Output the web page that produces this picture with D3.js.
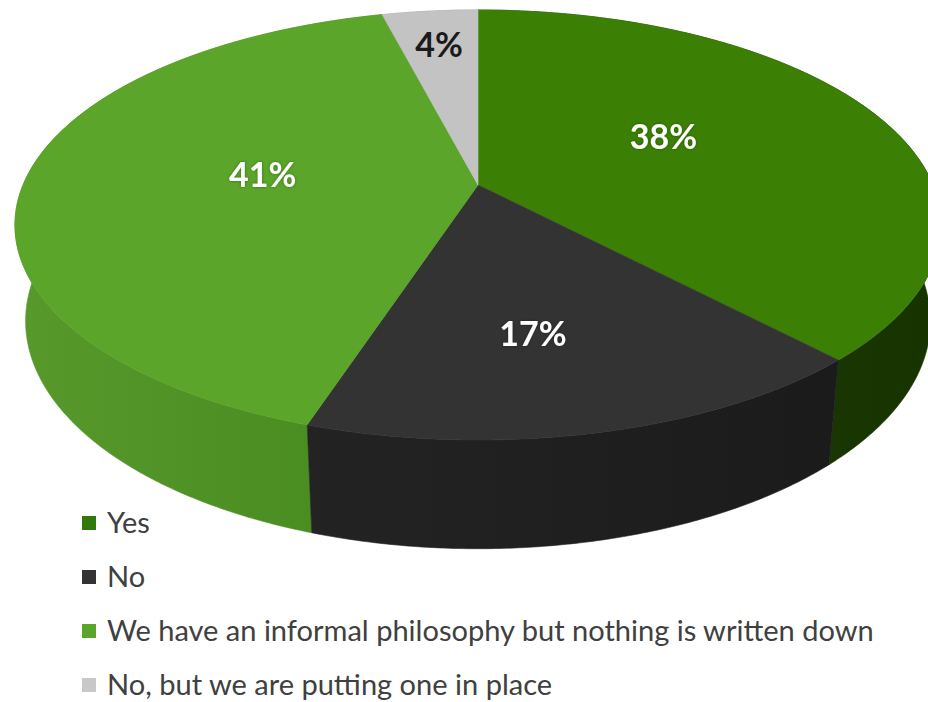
<!DOCTYPE html>
<html>
<head>
<meta charset="utf-8">
<script src="https://cdn.jsdelivr.net/npm/d3@7"></script>
<style>
  html, body { margin: 0; padding: 0; background: #ffffff; }
  svg { display: block; }
</style>
</head>
<body>
<svg id="chart" width="928" height="702"></svg>
<script>
// ---- data ----
const categories = [
  "Yes",
  "No",
  "We have an informal philosophy but nothing is written down",
  "No, but we are putting one in place"
];
const values = [38, 17, 41, 4];
const valueLabels = ["38%", "17%", "41%", "4%"];

// ---- styling ----
const topColors  = ["#3b8004", "#333333", "#5aa52a", "#c3c3c3"];
const sideColors = [["#1f4207", "#173300"], ["#232323", "#1b1b1b"], ["#57992b", "#478a1f"], ["#9a9a9a", "#8a8a8a"]];
const legendColors = ["#2f7a0a", "#333333", "#5aa52a", "#c8c8c8"];
const labelColors = ["#ffffff", "#ffffff", "#ffffff", "#1a1a1a"];
// label anchor: fraction of radius and angular nudge (degrees) from the slice middle
const labelPlacement = [
  { r: 0.49, nudge: -8 },
  { r: 0.64, nudge: 3 },
  { r: 0.48, nudge: 4 },
  { r: 0.78, nudge: 0 }
];

const svg = d3.select("#chart");

// ---- 3D camera for a tilted cylinder (unit radius) ----
const cx = 478, cy = 185;       // screen position of the pie centre
const A = 455;                  // horizontal scale at centre depth
const persp = 0.186;            // perspective strength
const sinPhi = 207.6 / A;
const phi = Math.asin(sinPhi);
const cosPhi = Math.cos(phi);
const D = cosPhi / persp;       // camera distance
const F = A * D;                // focal length
const thick = 0.239;            // cylinder height (in radii)

function project(a, r, y3) {
  const X = r * Math.sin(a);
  const Z = -r * Math.cos(a);
  const yc = y3 * cosPhi - Z * sinPhi;
  const zc = D - y3 * sinPhi - Z * cosPhi;
  return [cx + F * X / zc, cy - F * yc / zc];
}

const pie = d3.pie().sort(null).value(d => d).startAngle(0).endAngle(2 * Math.PI);
const arcs = pie(values);

const line = d3.line().curve(d3.curveLinear);
const step = Math.PI / 360;

function arcSamples(a0, a1) {
  const n = Math.max(2, Math.ceil((a1 - a0) / step));
  return d3.range(n + 1).map(i => a0 + (a1 - a0) * i / n);
}

const defs = svg.append("defs");

// side wall gradients
arcs.forEach((d, i) => {
  const xs = arcSamples(d.startAngle, d.endAngle).map(a => project(a, 1, 0)[0]);
  const g = defs.append("linearGradient")
    .attr("id", "side" + i)
    .attr("gradientUnits", "userSpaceOnUse")
    .attr("x1", d3.min(xs)).attr("x2", d3.max(xs))
    .attr("y1", 0).attr("y2", 0);
  g.append("stop").attr("offset", "0%").attr("stop-color", sideColors[i][0]);
  g.append("stop").attr("offset", "100%").attr("stop-color", sideColors[i][1]);
});

const labelShadow = defs.append("filter").attr("id", "glow")
  .attr("x", "-20%").attr("y", "-30%").attr("width", "140%").attr("height", "160%");
labelShadow.append("feGaussianBlur").attr("in", "SourceAlpha").attr("stdDeviation", 1.6).attr("result", "b");
labelShadow.append("feFlood").attr("flood-color", "#000").attr("flood-opacity", 0.35);
labelShadow.append("feComposite").attr("in2", "b").attr("operator", "in").attr("result", "s");
const mrg = labelShadow.append("feMerge");
mrg.append("feMergeNode").attr("in", "s");
mrg.append("feMergeNode").attr("in", "SourceGraphic");

const pieG = svg.append("g");

// side walls, far ones first
const sideOrder = arcs.map((d, i) => i)
  .sort((p, q) => Math.cos((arcs[q].startAngle + arcs[q].endAngle) / 2) - Math.cos((arcs[p].startAngle + arcs[p].endAngle) / 2));

sideOrder.forEach(i => {
  const d = arcs[i];
  const as = arcSamples(d.startAngle, d.endAngle);
  const topPts = as.map(a => project(a, 1, 0));
  const botPts = as.slice().reverse().map(a => project(a, 1, -thick));
  pieG.append("path")
    .attr("d", line(topPts.concat(botPts)) + "Z")
    .attr("fill", `url(#side${i})`)
    .attr("stroke", `url(#side${i})`)
    .attr("stroke-width", 0.6);
});

// top faces
arcs.forEach((d, i) => {
  const as = arcSamples(d.startAngle, d.endAngle);
  const pts = [project(0, 0, 0)].concat(as.map(a => project(a, 1, 0)));
  pieG.append("path")
    .attr("d", line(pts) + "Z")
    .attr("fill", topColors[i])
    .attr("stroke", topColors[i])
    .attr("stroke-width", 0.6)
    .attr("stroke-linejoin", "round");
});

// value labels
arcs.forEach((d, i) => {
  const mid = (d.startAngle + d.endAngle) / 2 + labelPlacement[i].nudge * Math.PI / 180;
  const [lx, ly] = project(mid, labelPlacement[i].r, 0);
  svg.append("text")
    .attr("x", lx).attr("y", ly)
    .attr("dy", "0.36em")
    .attr("text-anchor", "middle")
    .attr("font-family", "Lato, 'Open Sans', sans-serif")
    .attr("font-weight", 700)
    .attr("font-size", 34)
    .attr("fill", labelColors[i])
    .attr("filter", i < 3 ? "url(#glow)" : null)
    .text(valueLabels[i]);
});

// legend
const legendX = 82, legendTop = 523, legendGap = 54, swatch = 14;
const legend = svg.append("g");
// fit the type size so the longest entry spans the legend width
const probe = legend.append("text")
  .attr("font-family", "Lato, 'Open Sans', sans-serif")
  .attr("font-size", 100)
  .text(categories[2]);
const fontSize = 100 * 767 / probe.node().getComputedTextLength();
probe.remove();

categories.forEach((c, i) => {
  const yc = legendTop + i * legendGap;
  legend.append("rect")
    .attr("x", legendX).attr("y", yc - swatch / 2)
    .attr("width", swatch).attr("height", swatch)
    .attr("fill", legendColors[i]);
  legend.append("text")
    .attr("x", legendX + swatch + 11)
    .attr("y", yc)
    .attr("dy", "0.34em")
    .attr("font-family", "Lato, 'Open Sans', sans-serif")
    .attr("font-size", fontSize)
    .attr("fill", "#404040")
    .text(c);
});
</script>
</body>
</html>
